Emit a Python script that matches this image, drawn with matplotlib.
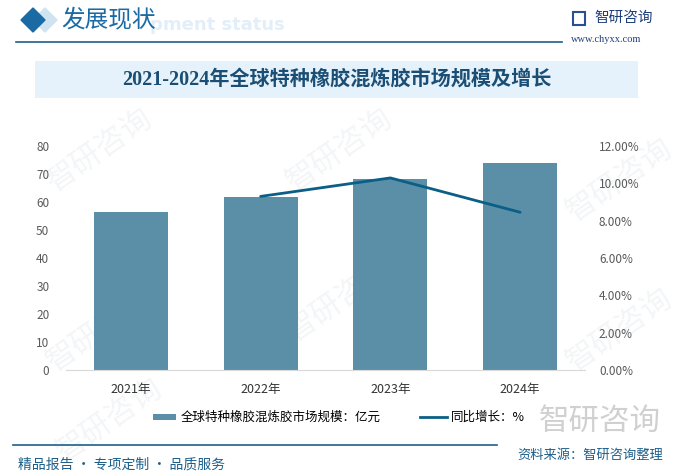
import numpy as np
import matplotlib
matplotlib.use('Agg')
from matplotlib import pyplot as plt
from matplotlib.patches import Rectangle, Polygon

plt.rcParams['font.family'] = ['Noto Sans CJK SC', 'DejaVu Sans']
plt.rcParams['axes.unicode_minus'] = False

# 数据
years = ['2021年', '2022年', '2023年', '2024年']
market_size = [56.4, 61.8, 68.2, 73.9]          # 亿元
growth_years = ['2022年', '2023年', '2024年']
growth_rate = [0.0930, 0.1029, 0.0845]           # 同比增长
left_ticks = [0, 10, 20, 30, 40, 50, 60, 70, 80]
right_ticks = [0, 0.02, 0.04, 0.06, 0.08, 0.10, 0.12]

W, H = 685, 474
fig = plt.figure(figsize=(W / 100, H / 100), dpi=100)
fig.patch.set_facecolor('white')

def fx(px):
    return px / W

def fy(py):
    return 1 - py / H

dark_blue = '#1d5f8a'
bar_color = '#5b8fa7'
line_color = '#0b5f86'

# ---- 水印 (放在最底层) ----
for (wx, wy) in [(100, 150), (340, 150), (620, 180), (100, 330), (340, 300), (620, 330), (110, 420)]:
    fig.text(fx(wx), fy(wy), '智研咨询', fontsize=22, color='#f3f5f7', rotation=35,
             ha='center', va='center', zorder=-5)

# ---- 页眉 ----
fig.patches.append(Polygon([[fx(45), fy(8)], [fx(57), fy(20)], [fx(45), fy(32)], [fx(33), fy(20)]],
                           closed=True, transform=fig.transFigure, color='#cfe3f1', zorder=1))
fig.patches.append(Polygon([[fx(33), fy(8)], [fx(45), fy(20)], [fx(33), fy(32)], [fx(21), fy(20)]],
                           closed=True, transform=fig.transFigure, color='#1a6aa3', zorder=2))
fig.text(fx(150), fy(25), 'pment status', fontsize=13, fontweight='bold', color='#e3eff8',
         family='DejaVu Sans', va='center', ha='left', zorder=1)
fig.text(fx(61), fy(20), '发展现状', fontsize=17, color='#1a6aa3', va='center', ha='left', zorder=3)
fig.lines.append(plt.Line2D([fx(16), fx(562)], [fy(41.5), fy(41.5)], transform=fig.transFigure,
                            color=dark_blue, lw=1.2))
# logo
fig.patches.append(Rectangle((fx(573), fy(25)), fx(12), 13 / H, transform=fig.transFigure,
                             facecolor='none', edgecolor='#2a4f9a', lw=1.5))
fig.text(fx(594), fy(18), '智研咨询', fontsize=10.5, color='#1f3f7a', va='center', ha='left')
fig.text(fx(571), fy(40), 'www.chyxx.com', fontsize=7.5, color='#1f3f7a', va='center', ha='left',
         family='Liberation Serif')

# ---- 标题栏 ----
fig.patches.append(Rectangle((fx(35), fy(98)), fx(603), 37 / H, transform=fig.transFigure,
                             facecolor='#e6f2fb', edgecolor='none', zorder=0))
fig.text(fx(337), fy(80), '2021-2024年全球特种橡胶混炼胶市场规模及增长', fontsize=14.5,
         fontweight='bold', color='#1b4e74', va='center', ha='center',
         family=['Liberation Serif', 'Noto Sans CJK SC'])

# ---- 主图 ----
ax = fig.add_axes([fx(66), fy(370), fx(585) - fx(66), fy(146) - fy(370)])
ax.set_facecolor('none')
x = np.arange(len(years))
ax.bar(x, market_size, width=0.57, color=bar_color, zorder=2)
ax.set_xlim(-0.5, len(years) - 0.5)
ax.set_ylim(0, 80)
ax.set_yticks(left_ticks)
ax.set_yticklabels([str(v) for v in left_ticks])
ax.set_xticks(x)
ax.set_xticklabels(years)
for s in ['top', 'right', 'left']:
    ax.spines[s].set_visible(False)
ax.spines['bottom'].set_color('#d9d9d9')
ax.tick_params(axis='x', length=0, pad=9, labelsize=9, labelcolor='#333333')
ax.tick_params(axis='y', length=0, pad=12, labelsize=8.5, labelcolor='#595959')

ax2 = ax.twinx()
gx = [years.index(g) for g in growth_years]
ax2.plot(gx, growth_rate, color=line_color, lw=2.0, zorder=3, solid_capstyle='round')
ax2.set_ylim(0, 0.12)
ax2.set_yticks(right_ticks)
ax2.set_yticklabels(['%.2f%%' % (v * 100) for v in right_ticks])
for s in ['top', 'right', 'left', 'bottom']:
    ax2.spines[s].set_visible(False)
ax2.tick_params(axis='y', length=0, pad=10, labelsize=8.5, labelcolor='#595959')

# ---- 图例 ----
fig.patches.append(Rectangle((fx(153), fy(420)), fx(23), 6 / H, transform=fig.transFigure,
                             facecolor=bar_color, edgecolor='none'))
fig.text(fx(181), fy(417), '全球特种橡胶混炼胶市场规模：亿元', fontsize=9, color='black',
         va='center', ha='left')
fig.lines.append(plt.Line2D([fx(420), fx(447)], [fy(417), fy(417)], transform=fig.transFigure,
                            color=line_color, lw=2.0))
fig.text(fx(451), fy(417), '同比增长：%', fontsize=9, color='black', va='center', ha='left')

# ---- 页脚 ----
fig.text(fx(600), fy(421), '智研咨询', fontsize=22, color='#d0d0d0',
         va='center', ha='center', zorder=-4)
fig.lines.append(plt.Line2D([fx(13), fx(497)], [fy(444.5), fy(444.5)], transform=fig.transFigure,
                            color=dark_blue, lw=1.2))
fig.text(fx(663), fy(455), '资料来源：智研咨询整理', fontsize=9.5, color=dark_blue,
         va='center', ha='right')
fig.text(fx(18), fy(465), '精品报告 · 专项定制 · 品质服务', fontsize=10, color=dark_blue,
         va='center', ha='left')

plt.savefig('out.png', dpi=100)
